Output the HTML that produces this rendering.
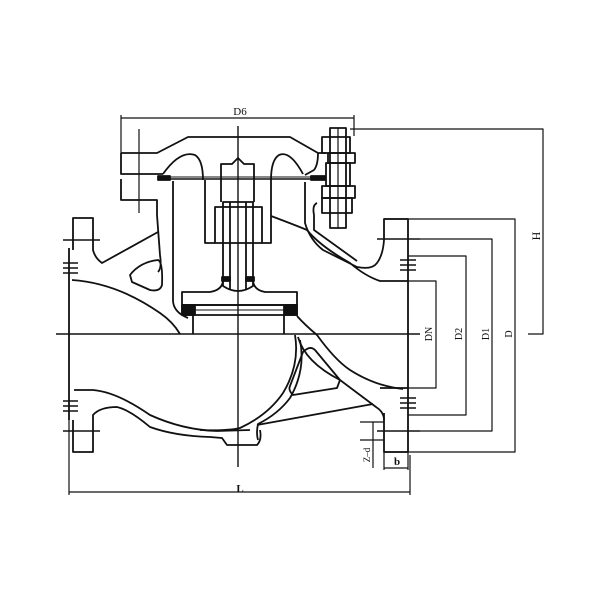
<!DOCTYPE html>
<html><head><meta charset="utf-8"><style>
html,body{margin:0;padding:0;background:#fff;}
svg{display:block;}
text{font-family:"Liberation Serif",serif;fill:#111;}
</style></head><body>
<svg width="600" height="600" viewBox="0 0 600 600" xmlns="http://www.w3.org/2000/svg">
<g fill="none" stroke="#111" stroke-width="1.8" stroke-linejoin="round">
<line x1="56" y1="334" x2="420" y2="334" stroke-width="1.4"/>
<line x1="238" y1="126" x2="238" y2="467" stroke-width="1.4"/>
<line x1="121" y1="118" x2="354" y2="118" stroke-width="1.2"/>
<line x1="121" y1="115" x2="121" y2="153" stroke-width="1.2"/>
<line x1="354" y1="115" x2="354" y2="136" stroke-width="1.2"/>
<line x1="139" y1="129" x2="139" y2="213" stroke-width="1.2"/>
<path d="M121,153 H157 L188,137 H290 L318,153 H326"/>
<path d="M121,153 V174 H163"/>
<path d="M121,179 V200 H157 V215 L160,255 Q162,268 158,272"/>
<path d="M163,174 Q180,150 195,155 Q203,160 203,180"/>
<path d="M303,174 Q290,150 279,155 Q271,160 271,180"/>
<path d="M160,179 H326" stroke-width="1.4"/>
<path d="M160,177 H326" stroke-width="1"/>
<rect x="158" y="176" width="12" height="4" fill="#111"/>
<rect x="311" y="176" width="14" height="4" fill="#111"/>
<path d="M173,181 V300 Q173,312 188,318"/>
<path d="M205,180 V243 H215"/>
<path d="M271,180 V243 H262"/>
<path d="M221,202 V164 L232,164 L238,158 L244,164 H254 V202"/>
<rect x="215" y="207" width="47" height="36"/>
<path d="M223,202 V286 Q238,296 253,286 V202 Z"/>
<line x1="230" y1="202" x2="230" y2="290"/>
<line x1="246" y1="202" x2="246" y2="290"/>
<rect x="222" y="277" width="8" height="4" fill="#111"/>
<rect x="246" y="277" width="8" height="4" fill="#111"/>
<path d="M223,281 Q222,290 210,292 H182 V305 H297 V292 H265 Q254,290 253,281"/>
<rect x="182" y="305" width="115" height="10"/>
<rect x="182" y="305" width="13" height="10" fill="#111"/>
<rect x="284" y="305" width="13" height="10" fill="#111"/>
<line x1="195" y1="310" x2="284" y2="310" stroke-width="1"/>
<line x1="193" y1="315" x2="193" y2="334"/>
<line x1="284" y1="315" x2="284" y2="334"/>
<rect x="322" y="137" width="28" height="16"/>
<rect x="328" y="153" width="27" height="10"/>
<rect x="326" y="163" width="24" height="23"/>
<rect x="322" y="186" width="33" height="12"/>
<rect x="322" y="198" width="30" height="15"/>
<rect x="330" y="128" width="16" height="100"/>
<line x1="338" y1="128" x2="338" y2="228" stroke-width="1.2"/>
<path d="M318,153 Q318,165 314,170 L305,175"/>
<path d="M305,182 V223 Q310,240 323,250 L357,267 Q372,270 377,263 Q383,255 384,240 V219 H408 V452 H384 V413"/>
<path d="M317,203 Q312,205 314,215 V230 L357,261"/>
<path d="M271,216 Q295,225 307,230 Q320,246 350,263 Q365,276 380,281 H408"/>
<path d="M380,388 H408"/>
<g stroke-width="1.5">
<line x1="400" y1="260" x2="416" y2="260"/><line x1="400" y1="265" x2="416" y2="265"/><line x1="400" y1="270" x2="416" y2="270"/>
<line x1="400" y1="398" x2="416" y2="398"/><line x1="400" y1="403" x2="416" y2="403"/><line x1="400" y1="408" x2="416" y2="408"/>
<line x1="377" y1="239" x2="420" y2="239"/>
<line x1="377" y1="431" x2="420" y2="431"/>
</g>
<path d="M297,316 Q305,325 317,335 Q335,360 350,370 Q375,386 403,389"/>
<path d="M298,337 Q305,362 340,380 L376,407 Q384,412 384,420"/>
<path d="M303,352 Q310,345 315,350 L340,380 L337,388 L293,395 Q288,390 290,386 Z"/>
<path d="M295,335 Q300,365 283,393 Q268,415 240,428 Q228,431 200,430"/>
<path d="M257,425 L373,404"/>
<path d="M300,340 Q306,370 290,398 Q278,414 258,424 Q256,433 258,440"/>
<path d="M73,250 V218 H93 V250 Q95,258 102,263 L158,232"/>
<path d="M130,275 Q140,262 158,260 Q163,262 162,285 Q160,292 150,290 L132,282 Z"/>
<path d="M69,248 V420"/>
<path d="M72,280 Q117,283 160,313 Q173,322 180,334"/>
<path d="M74,390 H93 Q117,392 150,415 Q183,430 217,431 L250,430"/>
<path d="M73,420 V452 H93 V415 Q100,407 117,407 Q130,410 150,427 Q175,436 210,437 L222,438 L227,445 H257 Q262,440 260,430"/>
<g stroke-width="1.5">
<line x1="63" y1="240" x2="100" y2="240"/>
<line x1="63" y1="263" x2="78" y2="263"/><line x1="63" y1="268" x2="78" y2="268"/><line x1="63" y1="273" x2="78" y2="273"/>
<line x1="63" y1="401" x2="78" y2="401"/><line x1="63" y1="406" x2="78" y2="406"/><line x1="63" y1="411" x2="78" y2="411"/>
<line x1="63" y1="431" x2="100" y2="431"/>
</g>
<g stroke-width="1.2">
<path d="M350,129 H543 V334 H528"/>
<path d="M384,219 H515 V452 H384"/>
<path d="M420,239 H492 V431 H420"/>
<path d="M408,256 H466 V415 H408"/>
<path d="M408,281 H436 V388 H408"/>
<path d="M373,422 V468"/>
<path d="M360,422 H384"/>
<path d="M360,440 H384"/>
<path d="M384,452 V470 M408,452 V470"/>
<path d="M384,468 H408"/>
<path d="M69,420 V495 M410,455 V495"/>
<path d="M69,492 H410"/>
</g>
</g>
<text x="240" y="115" font-size="11" text-anchor="middle">D6</text>
<text x="240" y="492" font-size="11" text-anchor="middle" font-weight="bold">L</text>
<text x="397" y="465" font-size="11" text-anchor="middle" font-weight="bold">b</text>
<text transform="translate(540,236) rotate(-90)" font-size="12" text-anchor="middle">H</text>
<text transform="translate(432,334) rotate(-90)" font-size="10" text-anchor="middle">DN</text>
<text transform="translate(462,334) rotate(-90)" font-size="10" text-anchor="middle">D2</text>
<text transform="translate(489,334) rotate(-90)" font-size="10" text-anchor="middle">D1</text>
<text transform="translate(512,334) rotate(-90)" font-size="10" text-anchor="middle">D</text>
<text transform="translate(370,455) rotate(-90)" font-size="9" text-anchor="middle">Z–d</text>
</svg>
</body></html>
